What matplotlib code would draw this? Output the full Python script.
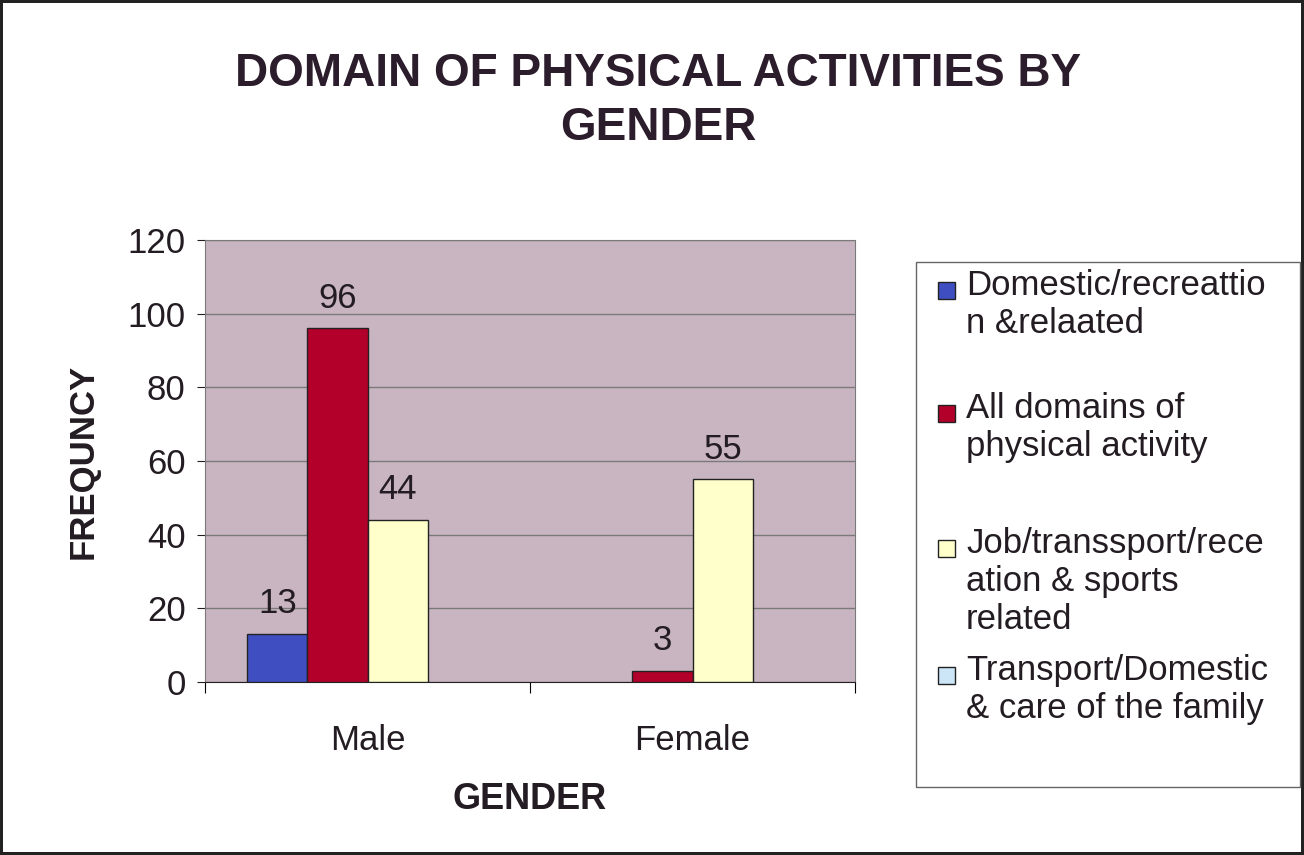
import numpy as np
import matplotlib
matplotlib.use('Agg')
import matplotlib.pyplot as plt
from matplotlib.patches import Rectangle

plt.rcParams['font.family'] = ['Liberation Sans', 'DejaVu Sans']

# data
genders = ['Male', 'Female']
series_names = ['Domestic/recreattio\nn &relaated',
                'All domains of\nphysical activity',
                'Job/transsport/rece\nation & sports\nrelated',
                'Transport/Domestic\n& care of the family']
domestic = [13, 0]
all_domains = [96, 3]
job_transport = [44, 55]
transport_care = [0, 0]
colors = ['#3f4fc2', '#b3002b', '#ffffcc', '#cce6f7']
yticks = [0, 20, 40, 60, 80, 100, 120]

txt = '#231c22'

fig = plt.figure(figsize=(13.04, 8.55), dpi=100)
fig.patch.set_edgecolor('#222222')
fig.patch.set_linewidth(3)
ax = fig.add_axes([205/1304, 1-682/855, 650/1304, 442/855])
ax.set_facecolor('#c9b5c2')

values = [domestic, all_domains, job_transport, transport_care]
x = np.arange(len(genders)) + 0.5
w = 0.185
for i, vals in enumerate(values):
    pos = x + (i - 1.5) * w
    lws = [1 if v > 0 else 0 for v in vals]
    bars = ax.bar(pos, vals, w, color=colors[i], edgecolor='#222222', linewidth=lws, zorder=3)
    labels = [str(v) if v > 0 else '' for v in vals]
    ax.bar_label(bars, labels=labels, padding=10, fontsize=25, color=txt)

ax.set_ylim(0, 120)
ax.set_xlim(0, 2)
ax.set_yticks(yticks)
ax.yaxis.grid(True, color='#7a7a7a', linewidth=1)
ax.set_axisbelow(True)
ax.tick_params(axis='y', labelsize=25, colors=txt, length=6, direction='out', pad=8)
ax.set_xticks([0, 1, 2])
ax.set_xticklabels([])
ax.tick_params(axis='x', length=8, direction='out')
ax.set_xticks(x, minor=True)
ax.set_xticklabels(genders, minor=True)
ax.tick_params(axis='x', which='minor', length=0, labelsize=25, colors=txt, pad=30)
for s in ['top', 'right', 'left']:
    ax.spines[s].set_color('#7a7a7a')
ax.spines['bottom'].set_color('#222222')

ax.set_ylabel('FREQUNCY', fontsize=25, fontweight='bold', color=txt, labelpad=20)
ax.set_xlabel('GENDER', fontsize=26, fontweight='bold', color=txt, labelpad=18)

fig.text(0.505, 0.882, 'DOMAIN OF PHYSICAL ACTIVITIES BY\nGENDER', ha='center', va='center',
         fontsize=33, fontweight='bold', color='#2b1d2c', linespacing=1.3)

# legend box drawn by hand to keep Excel's slot layout
fig.patches.append(Rectangle((916/1304, 1-787/855), 384/1304, 525/855, transform=fig.transFigure,
                             facecolor='white', edgecolor='#666666', linewidth=1))
slot_centers = [290, 413, 548, 675]
for name, c, yc in zip(series_names, colors, slot_centers):
    fig.patches.append(Rectangle((938/1304, 1-(yc+9)/855), 17/1304, 17/855, transform=fig.transFigure,
                                 facecolor=c, edgecolor='#222222', linewidth=1))
    fig.text(966/1304, 1-(yc-21)/855, name, ha='left', va='top', fontsize=25, color=txt, linespacing=1.2)

fig.savefig('out.png', dpi=100)
